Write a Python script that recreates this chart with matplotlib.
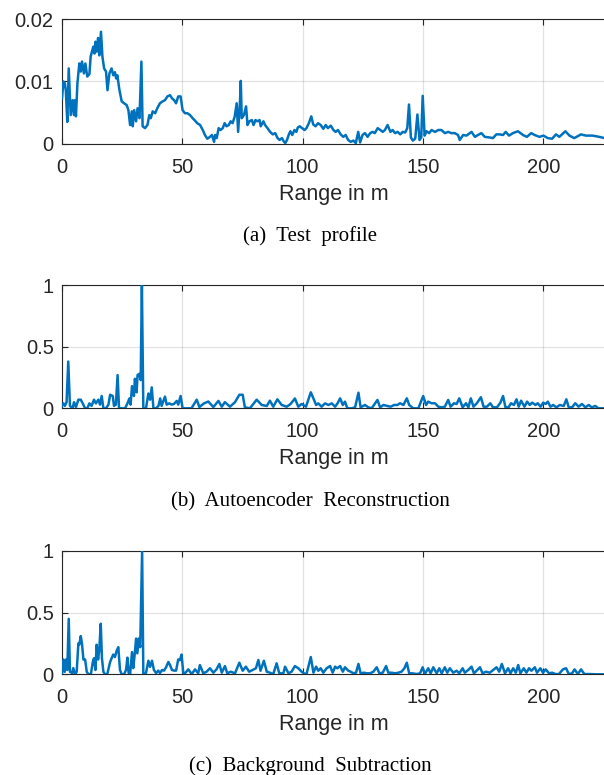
import matplotlib
matplotlib.use("Agg")
import matplotlib.pyplot as plt

# ---------------- data ----------------
range_a = [0.0, 0.6, 1.2, 1.6, 2.2, 2.8, 3.6, 4.4, 5.0, 5.4, 5.8, 6.4, 7.2, 7.8, 8.3, 9.1, 9.7, 10.5, 11.4, 11.9,
           13.0, 13.5, 13.9, 14.4, 15.0, 15.5, 16.2, 16.8, 17.5, 18.3, 18.9, 19.7, 20.6, 21.3, 22.0, 22.5, 23.0, 23.8, 24.8, 25.8,
           26.9, 27.6, 28.3, 29.0, 29.4, 30.0, 30.8, 31.4, 32.2, 33.0, 33.5, 34.5, 35.5, 36.3, 36.9, 37.7, 38.7, 39.6, 40.7, 41.8,
           42.8, 43.8, 44.9, 45.7, 46.6, 47.4, 48.3, 49.3, 50.1, 51.1, 52.1, 53.2, 54.3, 55.3, 56.2, 57.4, 58.5, 59.4, 60.4, 61.5,
           62.3, 63.2, 63.6, 64.3, 65.1, 65.9, 66.8, 67.6, 68.4, 69.3, 70.1, 70.9, 71.8, 72.6, 73.2, 74.0, 74.3, 74.7, 75.6, 76.5,
           77.1, 77.9, 78.9, 79.6, 80.4, 81.2, 82.1, 82.6, 83.7, 84.4, 85.4, 86.5, 87.6, 88.6, 89.6, 90.4, 91.4, 92.1, 92.8, 93.5,
           94.3, 94.9, 95.7, 96.6, 97.4, 98.0, 98.8, 99.8, 100.8, 101.6, 102.6, 103.6, 104.4, 105.4, 106.4, 107.5, 108.6, 109.6, 110.5, 111.7,
           112.8, 113.7, 114.7, 115.8, 116.9, 117.9, 118.9, 120.0, 121.1, 122.1, 123.1, 123.9, 124.9, 125.9, 127.0, 128.1, 129.1, 130.0, 131.2, 132.3,
           133.3, 134.2, 135.3, 136.5, 137.4, 138.4, 139.5, 140.6, 141.6, 142.6, 143.5, 144.2, 145.0, 145.8, 146.8, 147.7, 148.6, 149.3, 149.9, 150.7,
           151.5, 152.6, 153.6, 155.0, 156.4, 157.7, 159.1, 160.5, 161.8, 163.2, 164.6, 165.3, 166.7, 168.1, 170.2, 171.6, 172.9, 174.3, 175.7, 177.7,
           179.1, 180.5, 181.9, 183.3, 184.4, 185.8, 187.4, 189.5, 191.6, 193.2, 195.0, 196.4, 198.4, 200.1, 201.9, 203.7, 205.3, 206.7, 209.2, 210.9,
           212.9, 215.7, 217.7, 220.5, 223.3, 225.5]
test_profile_milli = [7.3, 10.0, 9.7, 8.5, 3.5, 12.1, 4.6, 7.0, 4.6, 7.0, 4.4, 9.7, 12.9, 11.6, 13.2, 11.3, 12.9, 10.8, 11.2, 14.0,
                      15.6, 14.5, 16.4, 14.8, 17.0, 14.2, 18.0, 14.0, 12.1, 11.6, 8.6, 11.3, 12.1, 11.0, 11.5, 10.5, 11.0, 8.8, 6.8, 6.5,
                      6.2, 5.4, 3.0, 5.2, 2.8, 5.4, 3.6, 5.7, 4.1, 13.2, 2.8, 2.5, 3.0, 4.6, 4.1, 5.2, 4.9, 5.7, 6.5, 6.8,
                      7.0, 7.6, 7.8, 7.3, 7.0, 6.5, 7.6, 7.6, 5.4, 4.9, 4.9, 4.6, 4.1, 3.7, 3.3, 3.0, 2.2, 1.4, 0.8, 1.1,
                      1.4, 0.3, 1.4, 0.9, 2.5, 2.2, 2.5, 3.3, 2.8, 3.0, 3.6, 3.3, 4.4, 6.5, 1.9, 7.0, 10.1, 4.1, 4.6, 6.0,
                      3.0, 3.6, 3.8, 3.0, 3.8, 3.6, 3.8, 2.8, 3.6, 3.0, 2.5, 1.9, 1.5, 1.7, 0.9, 0.6, 0.9, 0.4, 0.1, 0.6,
                      1.5, 2.0, 1.4, 2.2, 1.9, 2.6, 2.8, 2.5, 2.2, 2.5, 3.3, 4.4, 3.1, 2.8, 3.3, 3.0, 2.4, 3.0, 2.5, 2.9,
                      2.2, 1.9, 2.2, 1.5, 1.1, 1.4, 0.6, 0.3, 0.5, 0.1, 1.9, 0.2, 1.4, 1.7, 1.1, 1.7, 1.9, 1.7, 2.5, 2.2,
                      1.9, 2.2, 3.0, 1.9, 2.2, 1.7, 1.9, 1.5, 1.9, 1.8, 2.5, 6.3, 1.0, 0.5, 0.8, 4.7, 0.6, 1.0, 7.7, 1.3,
                      2.0, 1.7, 2.2, 1.9, 2.2, 2.2, 1.7, 1.9, 1.7, 1.7, 1.4, 0.6, 1.4, 1.3, 1.9, 1.1, 1.4, 1.7, 1.1, 1.0,
                      0.9, 1.5, 1.5, 1.4, 1.9, 1.3, 1.7, 2.0, 1.4, 1.1, 1.7, 1.4, 1.1, 1.3, 0.9, 0.8, 1.5, 1.1, 2.0, 1.3,
                      0.9, 1.5, 1.3, 1.3, 1.1, 0.9]
test_profile = [v / 1000.0 for v in test_profile_milli]

range_b = [0.0, 0.6, 1.2, 1.9, 2.6, 3.3, 4.4, 5.0, 5.8, 6.8, 7.8, 8.6, 9.6, 10.5, 11.4, 12.3, 13.3, 14.1, 15.1, 15.8,
           16.5, 17.2, 18.3, 19.3, 20.0, 21.1, 21.6, 22.4, 23.1, 23.7, 24.8, 26.2, 27.2, 28.0, 28.5, 29.1, 29.9, 30.3, 31.0, 31.4,
           32.1, 32.7, 33.2, 33.8, 34.9, 35.9, 36.6, 37.3, 38.0, 39.1, 40.1, 40.8, 41.4, 42.8, 43.5, 44.6, 45.6, 46.5, 47.7, 48.3,
           49.3, 50.1, 51.5, 53.8, 56.0, 57.1, 59.0, 60.8, 62.9, 65.0, 66.4, 67.7, 69.8, 71.9, 73.7, 75.1, 76.0, 78.1, 80.9, 83.0,
           85.1, 86.4, 87.8, 89.5, 91.3, 93.4, 95.0, 96.8, 98.2, 99.6, 101.4, 103.4, 104.5, 105.6, 106.5, 107.9, 109.3, 110.7, 112.1, 113.5,
           114.5, 115.6, 116.7, 117.6, 118.6, 120.4, 121.8, 123.2, 124.1, 125.9, 127.3, 128.7, 131.1, 132.2, 133.6, 135.2, 136.6, 138.0, 139.4, 140.5,
           141.9, 143.3, 144.3, 146.0, 148.1, 150.1, 151.3, 152.2, 153.6, 155.0, 156.4, 157.8, 159.1, 160.5, 161.5, 162.9, 164.0, 165.1, 166.5, 167.9,
           168.9, 169.9, 171.0, 172.4, 174.1, 175.2, 176.6, 178.0, 179.1, 180.8, 182.2, 183.3, 184.3, 185.6, 186.6, 187.8, 188.9, 189.8, 190.8, 192.2,
           193.3, 194.4, 195.4, 196.8, 197.7, 198.9, 200.0, 201.0, 201.9, 203.0, 204.1, 205.5, 206.9, 208.5, 209.6, 210.6, 212.0, 213.3, 214.7, 216.1,
           217.5, 218.9, 220.2, 221.6, 223.0, 225.5]
autoencoder = [0.02, 0.04, 0.02, 0.05, 0.38, 0.02, 0.0, 0.05, 0.01, 0.07, 0.07, 0.04, 0.0, 0.0, 0.04, 0.02, 0.07, 0.04, 0.07, 0.03,
               0.10, 0.0, 0.0, 0.03, 0.11, 0.10, 0.02, 0.03, 0.27, 0.0, 0.0, 0.0, 0.04, 0.08, 0.03, 0.18, 0.10, 0.24, 0.13, 0.27,
               0.28, 0.23, 1.0, 0.0, 0.0, 0.12, 0.07, 0.17, 0.0, 0.0, 0.02, 0.08, 0.02, 0.095, 0.03, 0.04, 0.03, 0.035, 0.06, 0.03,
               0.10, 0.0, 0.0, 0.0, 0.07, 0.01, 0.04, 0.055, 0.01, 0.06, 0.013, 0.05, 0.013, 0.05, 0.11, 0.11, 0.008, 0.0, 0.07, 0.027,
               0.019, 0.062, 0.013, 0.073, 0.027, 0.013, 0.035, 0.08, 0.013, 0.035, 0.013, 0.13, 0.08, 0.027, 0.04, 0.013, 0.04, 0.027, 0.04, 0.013,
               0.04, 0.081, 0.027, 0.054, 0.0, 0.0, 0.008, 0.127, 0.008, 0.027, 0.008, 0.0, 0.068, 0.008, 0.027, 0.019, 0.013, 0.027, 0.027, 0.041,
               0.027, 0.081, 0.027, 0.0, 0.0, 0.10, 0.027, 0.054, 0.041, 0.041, 0.013, 0.008, 0.013, 0.068, 0.013, 0.041, 0.035, 0.081, 0.008, 0.041,
               0.008, 0.081, 0.013, 0.041, 0.09, 0.013, 0.013, 0.041, 0.008, 0.008, 0.046, 0.10, 0.008, 0.008, 0.041, 0.027, 0.073, 0.013, 0.062, 0.013,
               0.054, 0.027, 0.046, 0.027, 0.041, 0.013, 0.046, 0.035, 0.054, 0.013, 0.027, 0.008, 0.027, 0.019, 0.073, 0.008, 0.008, 0.041, 0.013, 0.035,
               0.008, 0.027, 0.008, 0.019, 0.0, 0.0]

range_c = [0.0, 0.6, 1.1, 1.7, 2.2, 2.8, 3.3, 4.2, 4.7, 5.4, 6.1, 6.8, 7.2, 7.8, 8.3, 8.9, 9.6, 10.3, 11.0, 12.0,
           12.8, 13.3, 13.9, 14.4, 15.0, 15.5, 16.1, 16.6, 17.2, 17.9, 18.8, 20.0, 20.6, 21.3, 22.0, 22.7, 23.4, 24.1, 24.8, 25.8,
           26.6, 27.2, 27.7, 28.3, 29.1, 29.6, 30.2, 30.8, 31.3, 31.9, 32.5, 33.3, 33.8, 34.9, 35.9, 36.6, 37.4, 38.2, 39.1, 40.0,
           40.7, 41.6, 42.4, 43.2, 44.2, 44.9, 45.7, 46.6, 47.4, 48.3, 49.0, 49.7, 50.4, 51.1, 52.5, 53.9, 55.3, 56.6, 57.3, 58.7,
           60.1, 61.5, 62.9, 64.2, 65.4, 66.4, 67.7, 68.7, 70.1, 71.9, 73.7, 75.1, 76.4, 77.8, 79.2, 80.6, 81.6, 82.5, 83.9, 85.1,
           86.4, 87.8, 89.2, 90.3, 92.0, 92.7, 94.1, 95.4, 96.8, 98.2, 99.6, 101.0, 101.7, 103.4, 104.5, 105.6, 106.5, 107.5, 108.6, 110.0,
           111.4, 112.5, 113.5, 114.4, 115.6, 116.7, 117.6, 119.0, 120.0, 121.1, 122.2, 123.2, 124.1, 125.5, 126.6, 128.0, 129.4, 130.8, 131.9, 133.3,
           134.7, 135.6, 137.0, 138.4, 139.8, 141.1, 142.3, 143.3, 144.3, 145.7, 147.4, 148.8, 149.9, 150.8, 152.2, 153.2, 154.3, 155.7, 156.8, 157.8,
           159.1, 160.1, 161.2, 162.6, 164.0, 165.1, 166.5, 167.4, 168.8, 170.2, 171.2, 172.3, 173.7, 174.8, 176.2, 177.8, 179.2, 180.6, 181.7, 182.8,
           184.1, 185.4, 186.4, 187.5, 188.6, 189.6, 190.5, 191.9, 193.0, 194.1, 195.1, 196.5, 197.4, 198.8, 199.9, 201.0, 202.4, 203.7, 205.1, 206.5,
           208.2, 209.5, 210.6, 212.0, 213.0, 214.4, 215.7, 217.1, 219.2, 222.0, 225.5]
background_sub = [0.01, 0.12, 0.02, 0.12, 0.035, 0.45, 0.02, 0.01, 0.05, 0.0, 0.02, 0.25, 0.24, 0.31, 0.25, 0.12, 0.12, 0.02, 0.0, 0.0,
                  0.10, 0.13, 0.035, 0.24, 0.12, 0.20, 0.41, 0.13, 0.02, 0.0, 0.0, 0.10, 0.13, 0.16, 0.14, 0.19, 0.22, 0.035, 0.0, 0.0,
                  0.035, 0.135, 0.01, 0.0, 0.18, 0.05, 0.16, 0.29, 0.17, 0.29, 0.22, 1.0, 0.0, 0.01, 0.11, 0.06, 0.11, 0.035, 0.01, 0.03,
                  0.01, 0.035, 0.03, 0.055, 0.10, 0.075, 0.035, 0.03, 0.03, 0.12, 0.115, 0.16, 0.01, 0.008, 0.04, 0.002, 0.04, 0.008, 0.075, 0.008,
                  0.021, 0.049, 0.013, 0.04, 0.084, 0.013, 0.067, 0.008, 0.021, 0.008, 0.094, 0.029, 0.062, 0.021, 0.035, 0.049, 0.116, 0.029, 0.11, 0.021,
                  0.013, 0.002, 0.089, 0.008, 0.008, 0.062, 0.008, 0.021, 0.067, 0.049, 0.021, 0.002, 0.008, 0.14, 0.013, 0.062, 0.029, 0.049, 0.013, 0.049,
                  0.067, 0.013, 0.062, 0.049, 0.067, 0.021, 0.057, 0.029, 0.021, 0.008, 0.013, 0.084, 0.008, 0.013, 0.008, 0.008, 0.021, 0.057, 0.008, 0.013,
                  0.067, 0.013, 0.013, 0.008, 0.013, 0.021, 0.049, 0.094, 0.008, 0.008, 0.002, 0.008, 0.057, 0.002, 0.049, 0.008, 0.057, 0.008, 0.049, 0.008,
                  0.057, 0.013, 0.049, 0.013, 0.029, 0.008, 0.049, 0.013, 0.035, 0.062, 0.008, 0.029, 0.057, 0.008, 0.021, 0.013, 0.035, 0.057, 0.021, 0.084,
                  0.008, 0.049, 0.008, 0.049, 0.013, 0.075, 0.008, 0.049, 0.013, 0.049, 0.029, 0.057, 0.013, 0.049, 0.013, 0.04, 0.008, 0.013, 0.002, 0.002,
                  0.04, 0.049, 0.002, 0.008, 0.04, 0.002, 0.04, 0.002, 0.002, 0.0, 0.0]

x_ticks = [0, 50, 100, 150, 200]
x_label = "Range in m"
yticks_a = [0, 0.01, 0.02]
yticklabels_a = ["0", "0.01", "0.02"]
yticks_bc = [0, 0.5, 1]
yticklabels_bc = ["0", "0.5", "1"]
captions = ["(a)  Test  profile", "(b)  Autoencoder  Reconstruction", "(c)  Background  Subtraction"]

# ---------------- styling ----------------
LINE_COLOR = "#0072BD"
AX_COLOR = "#262626"
SANS = ["Liberation Sans", "DejaVu Sans"]
SERIF = ["Liberation Serif", "DejaVu Serif"]

W, H = 604, 775
fig = plt.figure(figsize=(W / 100, H / 100), dpi=100)

def px_axes(left, top, right, bottom):
    return fig.add_axes([left / W, 1 - bottom / H, (right - left) / W, (bottom - top) / H])

panels = [
    (range_a, test_profile, (0, 0.02), yticks_a, yticklabels_a, 19.3, 143.7, captions[0], 236),
    (range_b, autoencoder, (0, 1), yticks_bc, yticklabels_bc, 285.3, 408.3, captions[1], 502),
    (range_c, background_sub, (0, 1), yticks_bc, yticklabels_bc, 551.0, 674.3, captions[2], 766),
]

for xs, ys, ylim, yt, ytl, top, bottom, cap, cap_y in panels:
    ax = px_axes(62, top, 605.8, bottom)
    ax.plot(xs, ys, color=LINE_COLOR, lw=1.8, solid_joinstyle="round", zorder=3)
    ax.set_xlim(0, 226)
    ax.set_ylim(*ylim)
    ax.set_xticks(x_ticks)
    ax.set_xticklabels([str(t) for t in x_ticks], fontfamily=SANS, fontsize=14.5, color=AX_COLOR)
    ax.set_yticks(yt)
    ax.set_yticklabels(ytl, fontfamily=SANS, fontsize=14.5, color=AX_COLOR)
    ax.grid(True, color="#262626", alpha=0.13, lw=0.9)
    ax.set_axisbelow(True)
    ax.tick_params(direction="in", length=4, width=0.8, color=AX_COLOR, top=True, right=False)
    ax.tick_params(axis="x", pad=10)
    ax.tick_params(axis="y", pad=6)
    for s in ["left", "bottom", "top"]:
        ax.spines[s].set_color(AX_COLOR)
        ax.spines[s].set_linewidth(0.8)
    ax.spines["right"].set_visible(False)
    ax.set_xlabel(x_label, fontfamily=SANS, fontsize=15.5, color=AX_COLOR, labelpad=5)
    fig.text(310 / W, 1 - cap_y / H, cap, ha="center", va="center", fontfamily=SERIF, fontsize=15, color="black")

fig.savefig("out.png", dpi=100)
